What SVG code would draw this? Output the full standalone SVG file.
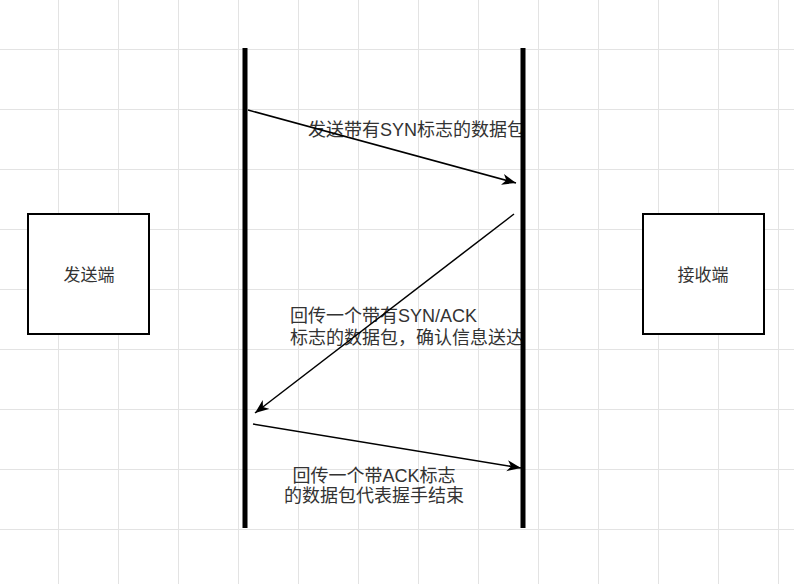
<svg xmlns="http://www.w3.org/2000/svg" width="794" height="584" viewBox="0 0 794 584">
  <style>
    .grid { stroke: #e3e3e3; stroke-width: 1; fill: none; }
    .box { fill: #ffffff; stroke: #000000; stroke-width: 2; }
    .lbl { font-family: "Liberation Sans", "Noto Sans CJK SC", sans-serif; font-size: 18px; fill: #333333; }
    .nlbl { font-family: "Liberation Serif", "Noto Sans CJK SC", serif; font-size: 17px; fill: #333333; text-anchor: middle; }
    .life { stroke: #000000; stroke-width: 5; }
    .msg { stroke: #000000; stroke-width: 1.5; fill: none; marker-end: url(#arrow); }
  </style>
  <defs>
    <marker id="arrow" markerUnits="userSpaceOnUse" markerWidth="16" markerHeight="12" refX="14" refY="5.5" orient="auto">
      <path d="M0,0 L14,5.5 L0,11 L4,5.5 Z" fill="#000000"/>
    </marker>
  </defs>
  <rect x="0" y="0" width="794" height="584" fill="#ffffff"/>
  <path class="grid" d="M58.5,0V584M118.5,0V584M178.5,0V584M238.5,0V584M298.5,0V584M358.5,0V584M418.5,0V584M478.5,0V584M538.5,0V584M598.5,0V584M658.5,0V584M718.5,0V584M778.5,0V584M0,49.5H794M0,109.5H794M0,169.5H794M0,229.5H794M0,289.5H794M0,349.5H794M0,409.5H794M0,469.5H794M0,529.5H794"/>

  <g id="sender">
    <rect class="box" x="28" y="214" width="121" height="120"/>
    <text class="nlbl" x="89" y="281">发送端</text>
  </g>
  <g id="receiver">
    <rect class="box" x="643" y="214" width="121" height="120"/>
    <text class="nlbl" x="703" y="281">接收端</text>
  </g>

  <g id="labels">
    <text class="lbl" x="308" y="136">发送带有SYN标志的数据包</text>
    <text class="lbl" x="290" y="322">回传一个带有SYN/ACK</text>
    <text class="lbl" x="290" y="344">标志的数据包，确认信息送达</text>
    <text class="lbl" x="374" y="482" text-anchor="middle">回传一个带ACK标志</text>
    <text class="lbl" x="374" y="502" text-anchor="middle">的数据包代表握手结束</text>
  </g>

  <g id="sender-lifeline">
    <line class="life" x1="245" y1="48" x2="245" y2="528"/>
  </g>
  <g id="receiver-lifeline">
    <line class="life" x1="523" y1="48" x2="523" y2="528"/>
  </g>

  <g id="connectors">
    <line class="msg" x1="248" y1="110" x2="516" y2="183"/>
    <line class="msg" x1="514" y1="214" x2="255" y2="413"/>
    <line class="msg" x1="253" y1="424" x2="521" y2="468"/>
  </g>
</svg>
